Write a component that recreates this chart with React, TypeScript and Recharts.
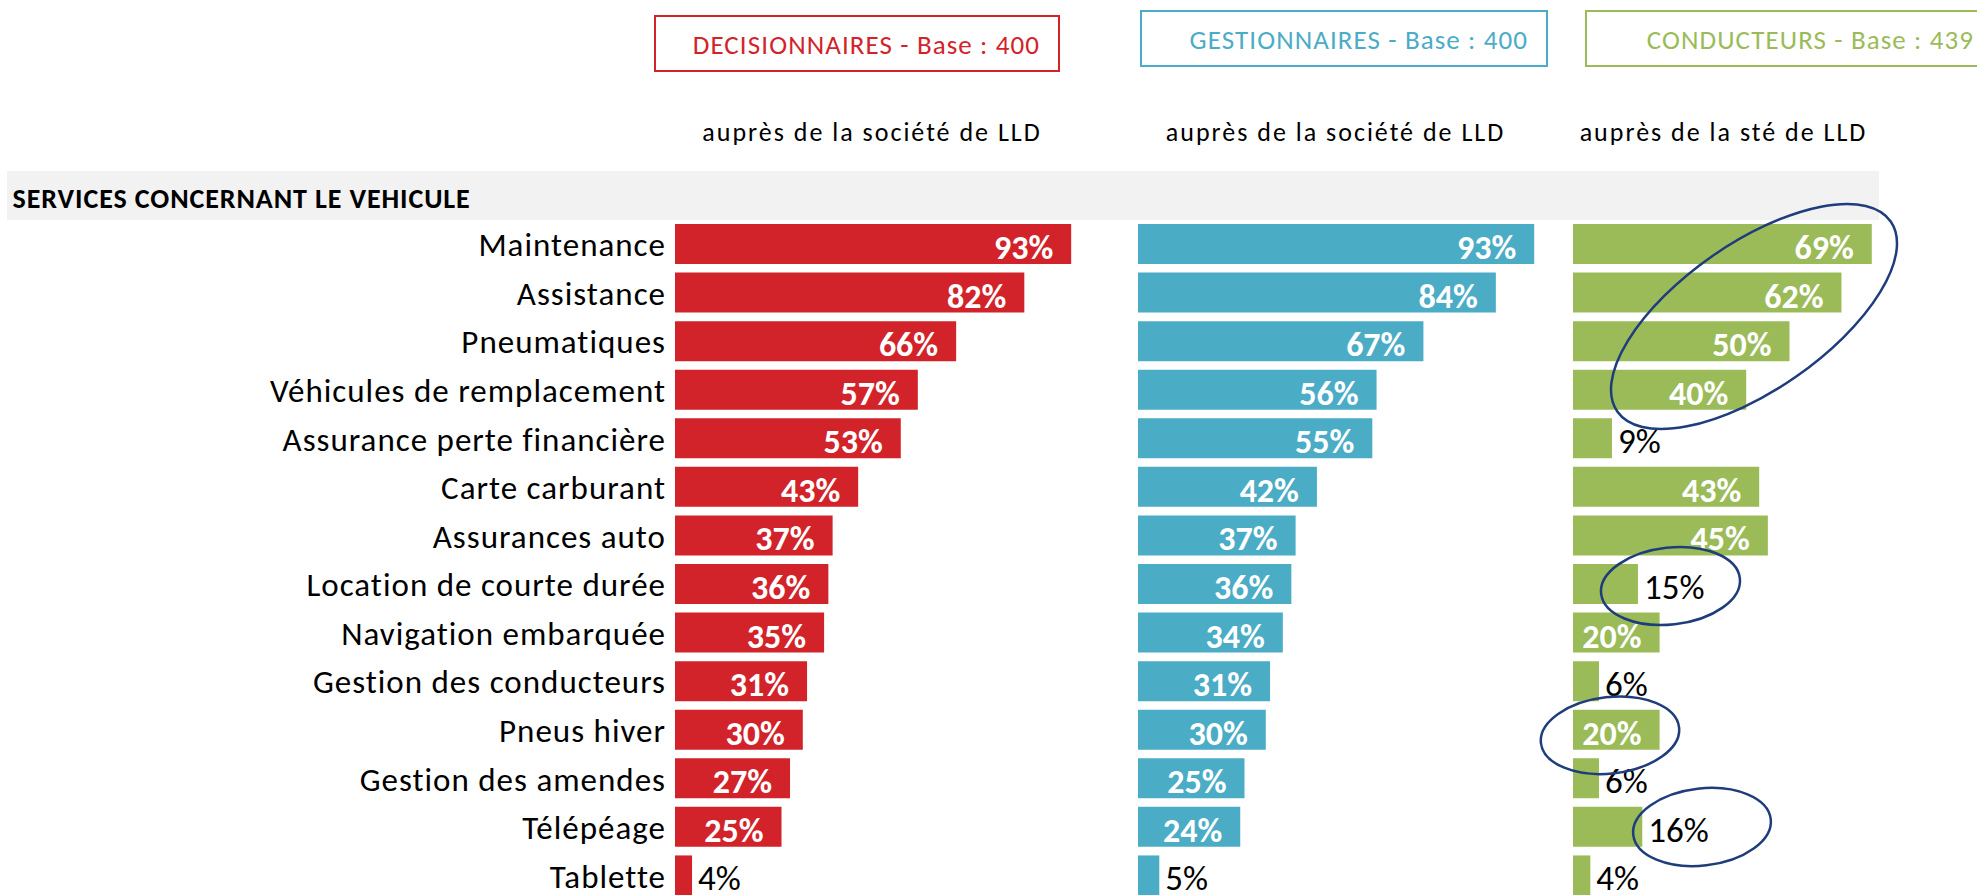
import React from 'react';
import { BarChart, Bar, XAxis, YAxis, LabelList } from 'recharts';

const categories = [
  'Maintenance',
  'Assistance',
  'Pneumatiques',
  'Véhicules de remplacement',
  'Assurance perte financière',
  'Carte carburant',
  'Assurances auto',
  'Location de courte durée',
  'Navigation embarquée',
  'Gestion des conducteurs',
  'Pneus hiver',
  'Gestion des amendes',
  'Télépéage',
  'Tablette',
];
const decisionnaires = [93, 82, 66, 57, 53, 43, 37, 36, 35, 31, 30, 27, 25, 4];
const gestionnaires = [93, 84, 67, 56, 55, 42, 37, 36, 34, 31, 30, 25, 24, 5];
const conducteurs = [69, 62, 50, 40, 9, 43, 45, 15, 20, 6, 20, 6, 16, 4];

const panelTitles = ['DECISIONNAIRES - Base : 400', 'GESTIONNAIRES - Base : 400', 'CONDUCTEURS - Base : 439'];
const panelSubtitles = ['auprès de la société de LLD', 'auprès de la société de LLD', 'auprès de la sté de LLD'];
const sectionTitle = 'SERVICES CONCERNANT LE VEHICULE';

const RED = '#D2232A';
const BLUE = '#4BACC6';
const GREEN = '#9BBB59';
const NAVY = '#1F3D7C';
const FONT = 'Carlito, Lato, sans-serif';

const buildData = (values: number[]) => categories.map((name, i) => ({ name, value: values[i] }));

const renderLabel = (props: any) => {
  const vb = props.viewBox && props.viewBox.width !== undefined ? props.viewBox : props;
  const x = Number(vb.x);
  const y = Number(vb.y);
  const width = Number(vb.width);
  const height = Number(vb.height);
  const value = Number(props.value);
  const cy = y + height / 2;
  if (value >= 20) {
    return (
      <text x={x + width - 18} y={cy + 15} textAnchor="end" fill="#FFFFFF" fontWeight={700} fontSize={34} fontFamily={FONT}>
        {value}%
      </text>
    );
  }
  return (
    <text x={x + width + 6} y={cy + 15} textAnchor="start" fill="#000000" fontSize={35} fontFamily={FONT}>
      {value}%
    </text>
  );
};

const CatTick = (props: any) => {
  const { x, y, payload } = props;
  return (
    <text x={x + 1} y={y + 12} textAnchor="end" fill="#000000" fontSize={33} letterSpacing={1} fontFamily={FONT}>
      {payload.value}
    </text>
  );
};

const CHART_H = 900;
const TOP = 220;

const Panel = ({ values, color, left, width, right, withAxis }: any) => (
  <div style={{ position: 'absolute', left, top: 0, zIndex: 1 }}>
    <BarChart
      width={width}
      height={CHART_H}
      data={buildData(values)}
      layout="vertical"
      margin={{ top: TOP, right, left: 0, bottom: 0 }}
    >
      <XAxis type="number" domain={[0, 100]} hide />
      {withAxis ? (
        <YAxis
          type="category"
          dataKey="name"
          width={675}
          tickLine={false}
          axisLine={false}
          tickSize={0}
          tickMargin={10}
          interval={0}
          tick={<CatTick />}
        />
      ) : (
        <YAxis type="category" dataKey="name" hide />
      )}
      <Bar dataKey="value" fill={color} barSize={40} isAnimationActive={false}>
        <LabelList dataKey="value" content={renderLabel} />
      </Bar>
    </BarChart>
  </div>
);

export default function App() {
  return (
    <div
      style={{
        position: 'absolute',
        left: 0,
        top: 0,
        width: 1977,
        height: 895,
        overflow: 'hidden',
        background: '#FFFFFF',
        fontFamily: FONT,
      }}
    >
      <div style={{ position: 'absolute', left: 7, top: 171, width: 1872, height: 49, background: '#F2F2F2', zIndex: 0 }} />
      <Panel values={decisionnaires} color={RED} left={0} width={1110} right={9} withAxis />
      <Panel values={gestionnaires} color={BLUE} left={1138} width={440} right={14} />
      <Panel values={conducteurs} color={GREEN} left={1573} width={433} right={0} />
      <svg width={1977} height={895} style={{ position: 'absolute', left: 0, top: 0, zIndex: 2, pointerEvents: 'none' }}>
        <rect x={655} y={16} width={404} height={55} fill="none" stroke={RED} strokeWidth={2} />
        <rect x={1141} y={11} width={406} height={55} fill="none" stroke={BLUE} strokeWidth={2} />
        <rect x={1586} y={11} width={410} height={55} fill="none" stroke={GREEN} strokeWidth={2} />
        <text x={1040} y={54} textAnchor="end" fill={RED} fontSize={27} letterSpacing={1.1} fontFamily={FONT}>{panelTitles[0]}</text>
        <text x={1528} y={49} textAnchor="end" fill={BLUE} fontSize={27} letterSpacing={1.1} fontFamily={FONT}>{panelTitles[1]}</text>
        <text x={1974} y={49} textAnchor="end" fill={GREEN} fontSize={27} letterSpacing={1.1} fontFamily={FONT}>{panelTitles[2]}</text>
        <text x={872} y={141} textAnchor="middle" fill="#000" fontSize={26} letterSpacing={2} fontFamily={FONT}>{panelSubtitles[0]}</text>
        <text x={1335.5} y={141} textAnchor="middle" fill="#000" fontSize={26} letterSpacing={2} fontFamily={FONT}>{panelSubtitles[1]}</text>
        <text x={1723.5} y={141} textAnchor="middle" fill="#000" fontSize={26} letterSpacing={2} fontFamily={FONT}>{panelSubtitles[2]}</text>
        <text x={12.6} y={208} fill="#000" fontSize={28} letterSpacing={0.9} fontWeight={700} fontFamily={FONT}>{sectionTitle}</text>
        <g fill="none" stroke={NAVY} strokeWidth={2.5}>
          <ellipse cx={1754} cy={316.5} rx={166.5} ry={73.4} transform="rotate(-34.8 1754 316.5)" />
          <ellipse cx={1670.5} cy={586} rx={69.8} ry={38.5} transform="rotate(-6.3 1670.5 586)" />
          <ellipse cx={1610} cy={735.3} rx={69.5} ry={38.2} transform="rotate(-6.5 1610 735.3)" />
          <ellipse cx={1702} cy={827} rx={69.2} ry={38.6} transform="rotate(-6.5 1702 827)" />
        </g>
      </svg>
    </div>
  );
}
